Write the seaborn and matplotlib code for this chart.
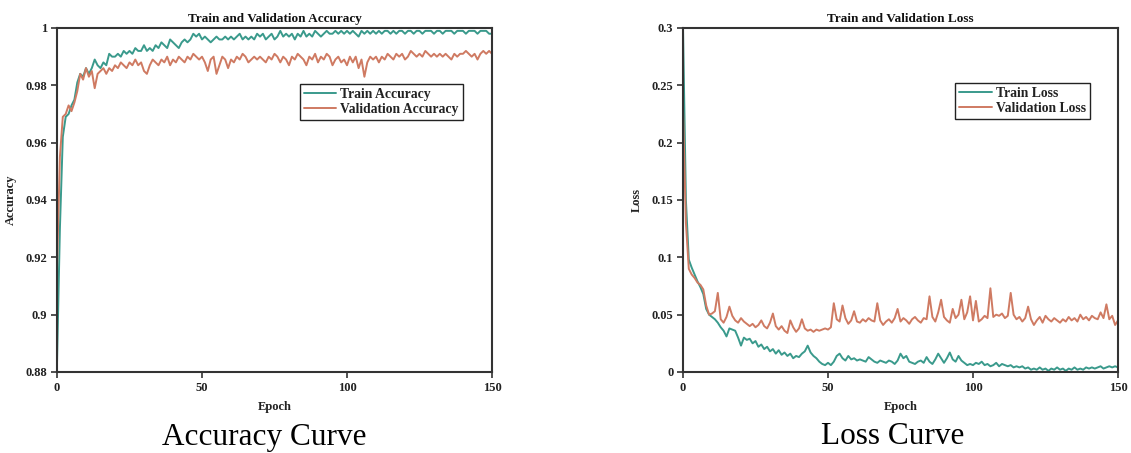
import numpy as np
import pandas as pd
import matplotlib
matplotlib.use("Agg")
import matplotlib.pyplot as plt
import seaborn as sns

epochs = list(range(151))

train_acc = [
    0.883, 0.930, 0.962, 0.969, 0.970, 0.973, 0.975, 0.981, 0.984, 0.983,
    0.986, 0.984, 0.986, 0.989, 0.987, 0.986, 0.988, 0.987, 0.991, 0.990,
    0.990, 0.991, 0.990, 0.992, 0.991, 0.992, 0.991, 0.993, 0.992, 0.992,
    0.994, 0.992, 0.993, 0.992, 0.994, 0.993, 0.995, 0.994, 0.993, 0.996,
    0.995, 0.994, 0.993, 0.995, 0.996, 0.995, 0.996, 0.998, 0.997, 0.998,
    0.996, 0.997, 0.996, 0.995, 0.996, 0.997, 0.996, 0.996, 0.997, 0.996,
    0.997, 0.996, 0.997, 0.998, 0.996, 0.997, 0.996, 0.997, 0.996, 0.998,
    0.997, 0.998, 0.996, 0.997, 0.998, 0.996, 0.997, 0.999, 0.997, 0.998,
    0.997, 0.998, 0.996, 0.998, 0.997, 0.999, 0.997, 0.998, 0.997, 0.999,
    0.998, 0.997, 0.998, 0.999, 0.998, 0.998, 0.999, 0.998, 0.999, 0.998,
    0.999, 0.998, 0.999, 0.998, 0.997, 0.999, 0.998, 0.999, 0.998, 0.999,
    0.998, 0.999, 0.998, 0.999, 0.999, 0.998, 0.999, 0.998, 0.999, 0.999,
    0.998, 0.999, 0.999, 0.998, 0.999, 0.999, 0.998, 0.999, 0.999, 0.999,
    0.998, 0.999, 0.999, 0.998, 0.999, 0.999, 0.999, 0.998, 0.999, 0.999,
    0.999, 0.998, 0.999, 0.999, 0.999, 0.998, 0.999, 0.999, 0.999, 0.998,
    0.998,
]

val_acc = [
    0.916, 0.955, 0.969, 0.970, 0.973, 0.971, 0.974, 0.978, 0.984, 0.982,
    0.986, 0.983, 0.985, 0.979, 0.984, 0.985, 0.986, 0.984, 0.986, 0.985,
    0.987, 0.986, 0.988, 0.987, 0.986, 0.988, 0.987, 0.989, 0.987, 0.988,
    0.985, 0.984, 0.987, 0.989, 0.988, 0.987, 0.989, 0.988, 0.990, 0.987,
    0.989, 0.988, 0.990, 0.989, 0.988, 0.990, 0.989, 0.991, 0.990, 0.989,
    0.990, 0.988, 0.985, 0.989, 0.990, 0.984, 0.987, 0.990, 0.989, 0.986,
    0.989, 0.988, 0.990, 0.989, 0.991, 0.990, 0.988, 0.989, 0.990, 0.989,
    0.990, 0.989, 0.988, 0.990, 0.989, 0.991, 0.990, 0.988, 0.990, 0.989,
    0.987, 0.990, 0.989, 0.991, 0.990, 0.989, 0.987, 0.990, 0.989, 0.991,
    0.988, 0.990, 0.989, 0.991, 0.990, 0.987, 0.989, 0.990, 0.988, 0.989,
    0.987, 0.990, 0.988, 0.990, 0.986, 0.989, 0.983, 0.988, 0.990, 0.989,
    0.990, 0.988, 0.990, 0.989, 0.991, 0.990, 0.989, 0.991, 0.990, 0.991,
    0.989, 0.990, 0.992, 0.991, 0.990, 0.991, 0.990, 0.992, 0.991, 0.990,
    0.991, 0.990, 0.991, 0.990, 0.991, 0.990, 0.989, 0.991, 0.990, 0.991,
    0.991, 0.992, 0.991, 0.990, 0.991, 0.989, 0.991, 0.992, 0.991, 0.992,
    0.991,
]

train_loss = [
    0.300, 0.150, 0.098, 0.091, 0.085, 0.079, 0.074, 0.068, 0.055, 0.050,
    0.048, 0.046, 0.043, 0.039, 0.036, 0.031, 0.038, 0.037, 0.036, 0.030,
    0.023, 0.030, 0.028, 0.029, 0.025, 0.027, 0.022, 0.024, 0.020, 0.022,
    0.018, 0.020, 0.016, 0.019, 0.015, 0.017, 0.014, 0.016, 0.012, 0.014,
    0.013, 0.016, 0.018, 0.023, 0.017, 0.014, 0.012, 0.009, 0.007, 0.006,
    0.008, 0.006, 0.009, 0.014, 0.016, 0.012, 0.010, 0.014, 0.011, 0.012,
    0.010, 0.011, 0.010, 0.009, 0.013, 0.011, 0.009, 0.008, 0.010, 0.009,
    0.008, 0.010, 0.009, 0.007, 0.010, 0.016, 0.012, 0.014, 0.009, 0.008,
    0.007, 0.009, 0.010, 0.008, 0.013, 0.009, 0.007, 0.011, 0.016, 0.012,
    0.008, 0.012, 0.017, 0.011, 0.009, 0.014, 0.010, 0.008, 0.006, 0.007,
    0.006, 0.008, 0.007, 0.009, 0.006, 0.007, 0.005, 0.006, 0.008, 0.005,
    0.007, 0.006, 0.005, 0.006, 0.004, 0.005, 0.004, 0.005, 0.003, 0.004,
    0.002, 0.003, 0.002, 0.004, 0.002, 0.003, 0.001, 0.003, 0.002, 0.004,
    0.002, 0.003, 0.001, 0.003, 0.002, 0.004, 0.002, 0.003, 0.002, 0.004,
    0.003, 0.004, 0.003, 0.004, 0.005, 0.003, 0.004, 0.005, 0.004, 0.005,
    0.004,
]

val_loss = [
    0.230, 0.130, 0.090, 0.085, 0.082, 0.078, 0.076, 0.072, 0.058, 0.050,
    0.051, 0.053, 0.069, 0.046, 0.043, 0.048, 0.057, 0.049, 0.045, 0.043,
    0.047, 0.044, 0.042, 0.040, 0.042, 0.039, 0.041, 0.045, 0.040, 0.038,
    0.043, 0.051, 0.040, 0.037, 0.040, 0.036, 0.034, 0.045, 0.039, 0.035,
    0.038, 0.046, 0.038, 0.036, 0.037, 0.035, 0.037, 0.036, 0.037, 0.038,
    0.037, 0.039, 0.060, 0.046, 0.044, 0.058, 0.047, 0.042, 0.045, 0.053,
    0.044, 0.043, 0.046, 0.044, 0.047, 0.045, 0.044, 0.060, 0.045, 0.041,
    0.044, 0.046, 0.043, 0.047, 0.055, 0.044, 0.047, 0.045, 0.042, 0.046,
    0.048, 0.045, 0.043, 0.047, 0.046, 0.066, 0.048, 0.044, 0.052, 0.063,
    0.048, 0.045, 0.043, 0.055, 0.047, 0.050, 0.063, 0.046, 0.052, 0.066,
    0.045, 0.062, 0.044, 0.046, 0.049, 0.047, 0.073, 0.048, 0.050, 0.049,
    0.051, 0.047, 0.049, 0.069, 0.050, 0.046, 0.048, 0.044, 0.047, 0.057,
    0.046, 0.041, 0.045, 0.048, 0.043, 0.049, 0.046, 0.044, 0.047, 0.045,
    0.043, 0.046, 0.044, 0.048, 0.045, 0.047, 0.044, 0.050, 0.046, 0.048,
    0.045, 0.049, 0.047, 0.046, 0.052, 0.047, 0.059, 0.046, 0.049, 0.041,
    0.045,
]

acc_ticks = [0.88, 0.9, 0.92, 0.94, 0.96, 0.98, 1]
acc_tick_labels = ["0.88", "0.9", "0.92", "0.94", "0.96", "0.98", "1"]
loss_ticks = [0, 0.05, 0.1, 0.15, 0.2, 0.25, 0.3]
loss_tick_labels = ["0", "0.05", "0.1", "0.15", "0.2", "0.25", "0.3"]
epoch_ticks = [0, 50, 100, 150]

TEAL = "#3a9a8c"
RUST = "#cf7a62"

sns.set_style("white")
plt.rcParams["font.family"] = ["Liberation Serif", "DejaVu Serif"]

fig = plt.figure(figsize=(11.31, 4.53), dpi=100)
axL = fig.add_axes([57 / 1131, 81 / 453, 435 / 1131, 344 / 453])
axR = fig.add_axes([683 / 1131, 81 / 453, 435 / 1131, 344 / 453])

acc_df = pd.DataFrame({
    "Epoch": epochs * 2,
    "value": train_acc + val_acc,
    "series": ["Train Accuracy"] * len(epochs) + ["Validation Accuracy"] * len(epochs),
})
loss_df = pd.DataFrame({
    "Epoch": epochs * 2,
    "value": train_loss + val_loss,
    "series": ["Train Loss"] * len(epochs) + ["Validation Loss"] * len(epochs),
})

sns.lineplot(data=acc_df, x="Epoch", y="value", hue="series",
             palette=[TEAL, RUST], linewidth=1.4, ax=axL)
sns.lineplot(data=loss_df, x="Epoch", y="value", hue="series",
             palette=[TEAL, RUST], linewidth=1.4, ax=axR)


def style(ax, ticks, ylim, ylabel, title, tick_labels, anchor):
    ax.set_xlim(0, 150)
    ax.set_ylim(*ylim)
    ax.set_xticks(epoch_ticks)
    ax.set_xticklabels([str(t) for t in epoch_ticks])
    ax.set_yticks(ticks)
    ax.set_yticklabels(tick_labels)
    for lab in ax.get_xticklabels() + ax.get_yticklabels():
        lab.set_fontweight("bold")
        lab.set_fontsize(9)
        lab.set_color("#222222")
    ax.tick_params(axis="both", direction="out", length=4, width=1.2,
                   color="#333333", pad=3, left=True, bottom=True)
    for sp in ax.spines.values():
        sp.set_color("#333333")
        sp.set_linewidth(1.5)
    ax.set_xlabel("Epoch", fontsize=9, fontweight="bold", labelpad=5, color="#222222")
    ax.set_ylabel(ylabel, fontsize=9, fontweight="bold", labelpad=6, color="#222222")
    ax.set_title(title, fontsize=9.5, fontweight="bold", pad=4, color="#111111")
    leg = ax.legend(loc="upper right", bbox_to_anchor=anchor, frameon=True,
                    fancybox=False, edgecolor="#222222", framealpha=1,
                    borderaxespad=0,
                    handlelength=2.4, handletextpad=0.3, borderpad=0.3,
                    labelspacing=0.15, prop={"weight": "bold", "size": 9.8})
    leg.get_frame().set_linewidth(1.0)
    for t in leg.get_texts():
        t.set_color("#222222")


style(axL, acc_ticks, (0.88, 1.0), "Accuracy", "Train and Validation Accuracy",
      acc_tick_labels, (0.933, 0.837))
style(axR, loss_ticks, (0, 0.3), "Loss", "Train and Validation Loss",
      loss_tick_labels, (0.936, 0.840))

fig.text(264 / 1131, 1 - 437 / 453, "Accuracy Curve", ha="center", va="center",
         fontsize=22.5, color="black", family=["Liberation Serif"])
fig.text(893 / 1131, 1 - 437 / 453, "Loss Curve", ha="center", va="center",
         fontsize=22.5, color="black", family=["Liberation Serif"])

fig.savefig("out.png", dpi=100, facecolor="white")
